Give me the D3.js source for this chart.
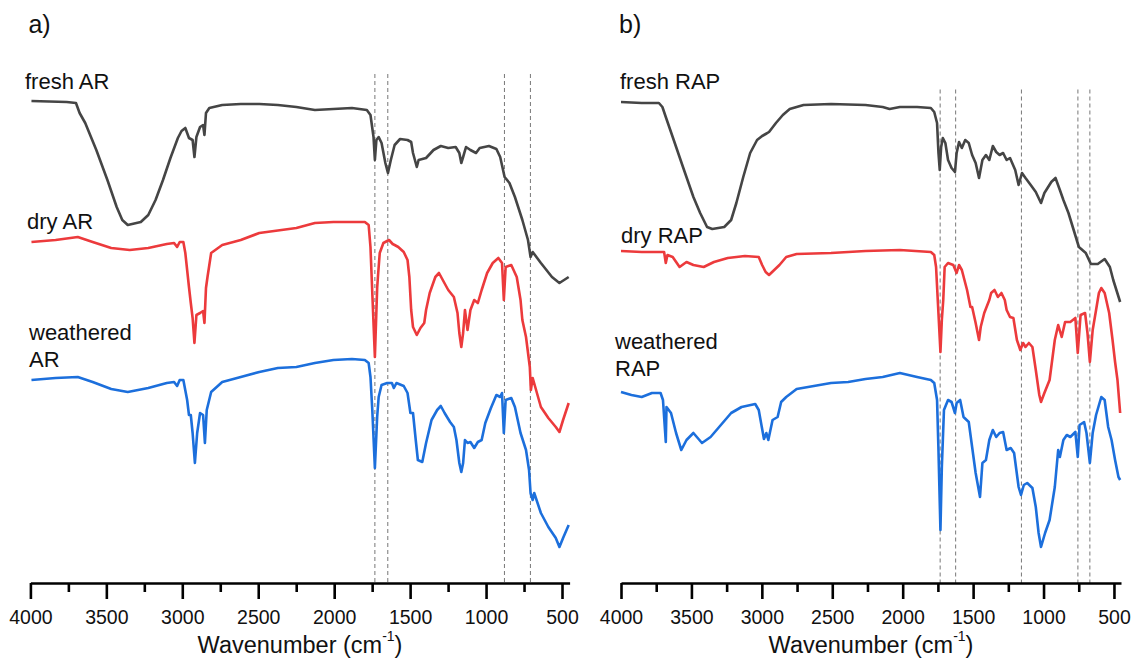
<!DOCTYPE html>
<html>
<head>
<meta charset="utf-8">
<script src="https://cdn.jsdelivr.net/npm/d3@7"></script>
<style>
    body { margin: 0; background: #fff; }
    svg { display: block; font-family: Arial, "Liberation Sans", sans-serif; }
    .spectrum { fill: none; stroke-width: 2.6; stroke-linejoin: round; }
    .marker-line { stroke: #777; stroke-width: 1; stroke-dasharray: 4 3; }
    .axis path, .axis line { stroke: #000; stroke-width: 2.6; }
    .axis text { font-size: 19.5px; fill: #111; font-family: Arial, "Liberation Sans", sans-serif; }
    .series-label { font-size: 22px; fill: #111; }
    .panel-letter { font-size: 25px; fill: #111; }
    .axis-title { font-size: 23.5px; fill: #111; }
</style>
</head>
<body>
<svg id="chart" width="1132" height="659"></svg>
<script>
const WIDTH = 1132;
const HEIGHT = 659;

const X_DOMAIN = [4000, 450];
const MAJOR_TICKS = [4000, 3500, 3000, 2500, 2000, 1500, 1000, 500];
const MINOR_TICKS = [3750, 3250, 2750, 2250, 1750, 1250, 750];

// transmittance traces, offset (a.u.); [wavenumber, value]
const freshAR = [
    [3993, 48.2], [3761, 48.1], [3700, 48.0], [3676, 47.0], [3639, 46.0], [3566, 43.3],
    [3493, 40.3], [3432, 37.6], [3395, 36.3], [3359, 35.8], [3273, 36.1], [3224, 36.8],
    [3176, 38.3], [3127, 40.3], [3078, 42.5], [3029, 44.5], [3005, 45.2], [2980, 45.5],
    [2956, 44.5], [2932, 44.3], [2920, 42.6], [2907, 44.6], [2883, 45.6], [2863, 45.8],
    [2854, 44.8], [2844, 47.0], [2822, 47.5], [2737, 47.8], [2615, 47.9], [2493, 47.9],
    [2371, 47.8], [2249, 47.6], [2127, 47.3], [2005, 47.4], [1883, 47.5], [1785, 47.3],
    [1761, 46.8], [1741, 44.6], [1732, 42.3], [1722, 44.3], [1707, 44.6], [1688, 44.0],
    [1663, 42.0], [1646, 41.0], [1627, 42.3], [1602, 43.8], [1566, 44.4], [1517, 44.3],
    [1493, 44.1], [1481, 43.0], [1456, 41.6], [1444, 42.3], [1395, 42.5], [1346, 43.3],
    [1298, 43.7], [1249, 43.5], [1200, 43.6], [1176, 43.0], [1163, 42.0], [1151, 42.6],
    [1132, 43.6], [1103, 43.3], [1066, 43.0], [1042, 43.5], [981, 43.7], [932, 43.4],
    [907, 42.6], [878, 40.6], [846, 40.0], [810, 38.6], [761, 36.3], [724, 34.3],
    [707, 32.6], [693, 33.1], [639, 32.0], [566, 30.6], [517, 30.0], [456, 30.6]
];

const dryAR = [
    [3993, 34.1], [3834, 34.3], [3688, 34.6], [3590, 34.1], [3468, 33.5], [3346, 33.3],
    [3224, 33.5], [3102, 33.9], [3054, 34.0], [3034, 33.6], [3017, 34.1], [2993, 34.1],
    [2980, 33.0], [2956, 29.6], [2944, 28.0], [2932, 26.5], [2920, 24.0], [2907, 26.8],
    [2883, 27.0], [2863, 27.2], [2854, 26.0], [2844, 29.5], [2834, 30.6], [2810, 33.0],
    [2737, 33.8], [2615, 34.3], [2493, 35.0], [2249, 35.5], [2127, 36.0], [2005, 36.1],
    [1883, 36.1], [1798, 36.1], [1773, 35.8], [1761, 33.6], [1749, 29.0], [1732, 22.6],
    [1717, 29.5], [1712, 30.6], [1700, 33.0], [1676, 34.0], [1639, 34.3], [1615, 33.9],
    [1602, 33.8], [1578, 33.6], [1542, 33.1], [1517, 32.3], [1505, 30.6], [1493, 27.3],
    [1481, 25.6], [1456, 24.8], [1432, 25.5], [1407, 26.0], [1395, 27.3], [1371, 29.0],
    [1334, 30.6], [1310, 31.0], [1285, 30.3], [1249, 29.3], [1212, 28.6], [1188, 27.0],
    [1176, 25.0], [1163, 23.6], [1151, 25.0], [1139, 27.3], [1122, 25.3], [1103, 27.3],
    [1078, 28.3], [1054, 28.0], [1029, 29.3], [993, 31.0], [956, 32.0], [919, 32.5],
    [895, 32.0], [883, 28.3], [871, 31.6], [834, 31.8], [798, 30.6], [773, 28.3],
    [761, 26.3], [737, 24.6], [712, 21.6], [705, 19.3], [693, 20.5], [639, 17.6],
    [590, 16.5], [541, 15.6], [517, 15.1], [493, 16.3], [456, 18.0]
];

const weatheredAR = [
    [3993, 20.3], [3834, 20.5], [3688, 20.6], [3590, 20.1], [3468, 19.4], [3359, 19.1],
    [3224, 19.5], [3102, 20.0], [3054, 20.1], [3034, 19.7], [3017, 20.3], [2993, 20.3],
    [2968, 18.3], [2956, 16.8], [2944, 16.8], [2932, 15.0], [2917, 12.0], [2902, 15.0],
    [2883, 17.0], [2863, 16.8], [2851, 14.0], [2839, 17.3], [2810, 19.1], [2737, 20.1],
    [2615, 20.6], [2493, 21.1], [2371, 21.5], [2249, 21.6], [2127, 22.0], [2005, 22.3],
    [1883, 22.4], [1798, 22.3], [1773, 22.0], [1761, 20.6], [1749, 17.3], [1732, 11.5],
    [1717, 16.6], [1707, 18.6], [1688, 19.8], [1651, 20.0], [1620, 20.0], [1607, 19.5],
    [1590, 20.0], [1542, 19.7], [1517, 19.0], [1498, 17.0], [1481, 17.0], [1463, 14.3],
    [1449, 12.3], [1420, 12.1], [1395, 14.0], [1359, 16.3], [1322, 17.3], [1298, 17.7],
    [1273, 17.0], [1237, 16.1], [1212, 15.6], [1195, 14.3], [1176, 12.0], [1163, 11.1],
    [1151, 12.0], [1139, 14.3], [1122, 14.0], [1103, 14.1], [1078, 13.5], [1054, 14.1],
    [1029, 14.3], [1005, 16.0], [968, 17.5], [932, 18.8], [907, 18.6], [895, 19.0],
    [883, 15.0], [871, 18.3], [834, 18.5], [810, 17.6], [773, 15.0], [737, 13.3],
    [717, 11.3], [707, 9.0], [693, 8.3], [683, 9.0], [639, 7.0], [590, 5.6],
    [541, 4.5], [517, 3.6], [493, 4.5], [456, 5.8]
];

const freshRAP = [
    [4000, 48.1], [3853, 48.0], [3731, 48.0], [3706, 47.6], [3682, 46.6], [3633, 44.6],
    [3560, 41.6], [3486, 38.6], [3438, 37.0], [3389, 35.6], [3352, 35.4], [3267, 35.6],
    [3218, 36.3], [3181, 38.0], [3132, 40.6], [3083, 43.0], [3034, 44.3], [2998, 44.7],
    [2973, 44.9], [2949, 45.1], [2900, 46.0], [2851, 46.8], [2802, 47.4], [2704, 47.8],
    [2509, 47.9], [2264, 47.8], [2142, 47.6], [2093, 47.4], [2020, 47.6], [1898, 47.6],
    [1800, 47.5], [1776, 47.1], [1756, 46.0], [1746, 43.0], [1737, 41.3], [1727, 43.6],
    [1715, 44.5], [1697, 44.0], [1678, 42.3], [1653, 41.5], [1629, 41.1], [1617, 43.0],
    [1600, 44.1], [1580, 43.5], [1556, 44.3], [1531, 44.0], [1507, 42.8], [1482, 42.0],
    [1458, 40.5], [1434, 42.3], [1409, 42.8], [1385, 42.3], [1360, 43.7], [1336, 43.1],
    [1312, 42.8], [1287, 43.0], [1262, 42.3], [1238, 42.5], [1201, 41.3], [1177, 39.8],
    [1153, 41.0], [1128, 40.5], [1091, 39.8], [1055, 39.1], [1018, 38.0], [994, 39.0],
    [945, 40.1], [915, 40.5], [884, 39.3], [859, 38.3], [823, 37.0], [786, 35.3],
    [749, 33.6], [700, 33.0], [664, 31.9], [615, 31.9], [566, 32.4], [529, 31.6],
    [505, 30.3], [456, 28.1]
];

const dryRAP = [
    [4000, 33.2], [3853, 33.1], [3731, 33.1], [3694, 33.1], [3682, 32.0], [3670, 32.8],
    [3633, 32.6], [3584, 31.6], [3535, 32.1], [3486, 31.8], [3413, 31.6], [3340, 32.1],
    [3242, 32.5], [3120, 32.7], [3022, 32.6], [2998, 31.8], [2973, 31.1], [2949, 30.8],
    [2912, 31.3], [2875, 31.8], [2827, 32.6], [2753, 32.9], [2509, 33.0], [2264, 33.2],
    [2020, 33.3], [1800, 33.1], [1776, 32.8], [1763, 31.6], [1751, 28.3], [1732, 23.1],
    [1722, 26.3], [1712, 28.3], [1702, 31.6], [1678, 32.0], [1641, 31.8], [1617, 31.0],
    [1600, 31.8], [1580, 31.3], [1543, 29.3], [1519, 27.6], [1507, 27.6], [1482, 26.0],
    [1458, 24.3], [1446, 25.6], [1421, 27.0], [1385, 28.3], [1372, 29.0], [1348, 29.3],
    [1324, 28.6], [1299, 29.0], [1275, 28.3], [1262, 27.3], [1238, 26.6], [1214, 26.5],
    [1189, 24.3], [1165, 23.3], [1145, 24.0], [1128, 23.6], [1104, 24.0], [1079, 23.6],
    [1055, 21.3], [1030, 18.8], [1018, 18.1], [994, 19.0], [957, 20.3], [920, 24.3],
    [896, 25.8], [871, 24.6], [847, 26.1], [810, 26.1], [774, 26.5], [757, 23.0],
    [737, 26.8], [705, 27.0], [688, 25.0], [671, 22.1], [651, 25.3], [627, 27.3],
    [607, 29.0], [590, 29.5], [566, 29.0], [534, 27.0], [510, 24.3], [492, 22.1],
    [475, 20.3], [456, 17.0]
];

const weatheredRAP = [
    [4000, 19.1], [3926, 18.8], [3853, 18.6], [3780, 19.0], [3719, 19.0], [3702, 18.3],
    [3682, 14.1], [3677, 17.6], [3645, 17.0], [3609, 15.0], [3572, 13.3], [3535, 14.3],
    [3486, 15.0], [3425, 14.0], [3364, 14.6], [3291, 15.8], [3218, 17.0], [3144, 17.6],
    [3047, 17.9], [3022, 17.3], [2985, 14.4], [2968, 15.0], [2954, 14.3], [2924, 16.3],
    [2888, 16.6], [2863, 18.1], [2827, 18.6], [2753, 19.4], [2631, 19.7], [2509, 20.0],
    [2387, 20.1], [2264, 20.4], [2142, 20.6], [2020, 21.0], [1898, 20.6], [1800, 20.3],
    [1776, 20.0], [1756, 18.3], [1746, 13.3], [1732, 5.3], [1722, 11.6], [1707, 17.3],
    [1678, 18.3], [1653, 18.1], [1629, 17.0], [1617, 18.0], [1592, 18.3], [1568, 16.6],
    [1531, 16.1], [1507, 13.6], [1482, 11.0], [1451, 8.6], [1434, 12.0], [1409, 12.3],
    [1385, 14.3], [1360, 15.3], [1336, 14.6], [1312, 15.0], [1287, 15.1], [1262, 13.3],
    [1233, 13.5], [1209, 13.0], [1177, 9.6], [1160, 8.8], [1140, 9.8], [1116, 10.0],
    [1079, 9.5], [1055, 7.6], [1035, 5.0], [1018, 3.6], [989, 5.0], [957, 6.3],
    [920, 9.6], [896, 13.3], [884, 12.6], [859, 14.3], [835, 14.8], [810, 14.6],
    [774, 15.1], [757, 12.6], [744, 15.8], [712, 16.1], [695, 15.0], [671, 12.0],
    [651, 15.0], [627, 16.8], [590, 18.6], [566, 18.3], [541, 15.6], [517, 14.3],
    [492, 12.3], [468, 10.6], [456, 10.3]
];

// band positions marked by dashed lines (cm-1)
const bandsAR = [1732, 1647, 879, 708];
const bandsRAP = [1734, 1624, 1157, 756, 671];

const COLORS = { fresh: "#454545", dry: "#ec3a3c", weathered: "#1c6fdc" };

const panels = [
    {
        letter: "a)", range: [30.4, 569.6], bands: bandsAR, bandTop: 50.9,
        series: [
            { key: "fresh", data: freshAR, label: ["fresh AR"], lx: 25, ly: 89 },
            { key: "dry", data: dryAR, label: ["dry AR"], lx: 27, ly: 229 },
            { key: "weathered", data: weatheredAR, label: ["weathered", "AR"], lx: 29, ly: 340 }
        ]
    },
    {
        letter: "b)", range: [621, 1121], bands: bandsRAP, bandTop: 49.35,
        series: [
            { key: "fresh", data: freshRAP, label: ["fresh RAP"], lx: 620, ly: 89 },
            { key: "dry", data: dryRAP, label: ["dry RAP"], lx: 621, ly: 243 },
            { key: "weathered", data: weatheredRAP, label: ["weathered", "RAP"], lx: 615, ly: 349 }
        ]
    }
];

const AXIS_Y = 583;
const y = d3.scaleLinear().domain([0, 51]).range([AXIS_Y, 73]);

const svg = d3.select("#chart");

panels.forEach(p => {
    const x = d3.scaleLinear().domain(X_DOMAIN).range(p.range);
    const g = svg.append("g");

    // dashed band markers
    g.selectAll(".marker-line")
        .data(p.bands)
        .join("line")
        .attr("class", "marker-line")
        .attr("x1", d => x(d)).attr("x2", d => x(d))
        .attr("y1", y(p.bandTop)).attr("y2", AXIS_Y);

    const line = d3.line()
        .x(d => x(d[0]))
        .y(d => y(d[1]));

    p.series.forEach(s => {
        g.append("path")
            .attr("class", "spectrum")
            .attr("stroke", COLORS[s.key])
            .attr("d", line(s.data));

        const t = g.append("text")
            .attr("class", "series-label")
            .attr("x", s.lx)
            .attr("y", s.ly);
        s.label.forEach((l, i) => {
            t.append("tspan").attr("x", s.lx).attr("dy", i === 0 ? 0 : 26.7).text(l);
        });
    });

    // minor ticks
    g.append("g")
        .attr("class", "axis")
        .attr("transform", `translate(0,${AXIS_Y})`)
        .call(d3.axisBottom(x).tickValues(MINOR_TICKS).tickSize(9).tickSizeOuter(0).tickFormat(""))
        .select(".domain").remove();

    // major ticks + axis line
    g.append("g")
        .attr("class", "axis")
        .attr("transform", `translate(0,${AXIS_Y})`)
        .call(d3.axisBottom(x).tickValues(MAJOR_TICKS).tickSize(16).tickSizeOuter(0)
            .tickPadding(11).tickFormat(d3.format("d")));

    const cx = (p.range[0] + p.range[1]) / 2;
    const title = g.append("text")
        .attr("class", "axis-title")
        .attr("x", cx)
        .attr("y", 653)
        .attr("text-anchor", "middle");
    title.append("tspan").text("Wavenumber (cm");
    title.append("tspan").attr("font-size", "14px").attr("dy", -12).text("-1");
    title.append("tspan").attr("dy", 12).text(")");

    g.append("text")
        .attr("class", "panel-letter")
        .attr("x", p.range[0] - 2)
        .attr("y", 33)
        .text(p.letter);
});
</script>
</body>
</html>
